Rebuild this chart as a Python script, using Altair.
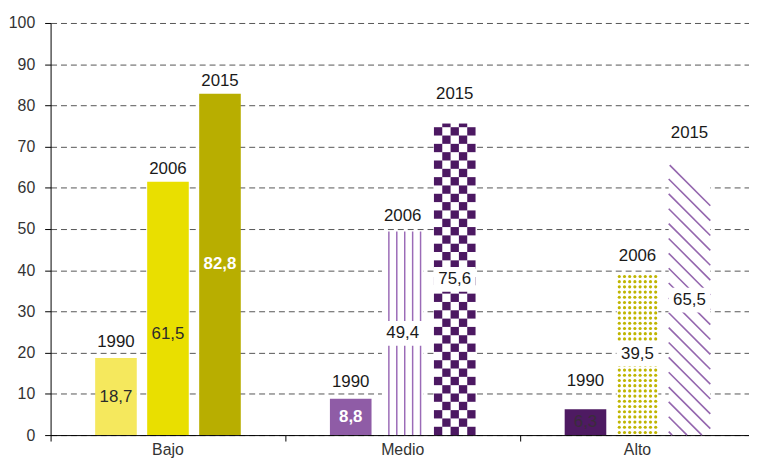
import altair as alt
import pandas as pd
import math

# ---- data ----
groups = ["Bajo", "Medio", "Alto"]
years = ["1990", "2006", "2015"]
bajo = [18.7, 61.5, 82.8]
medio = [8.8, 49.4, 75.6]
alto = [6.3, 39.5, 65.5]
title_text = "B. Varones"

values = [bajo, medio, alto]

# ---- styles ----
fills = [["#F5E85D", "#E9DF00", "#B8AE00"],
         ["#8F5CA6", "vstripe", "checker"],
         ["#4E1A62", "dots", "diag"]]
text_colors = [["#2b2b2b", "#2b2b2b", "#ffffff"],
               ["#ffffff", "#1a1a1a", "#1a1a1a"],
               ["#3a2d3a", "#1a1a1a", "#1a1a1a"]]
text_bold = [[False, False, True], [True, False, False], [False, False, False]]
# placement of the annotations as in the original (pixels)
year_lift = [[16, 13, 13], [17, 16, 30], [28, 16, 32]]
value_drop = [[0, 26, 0], [0, 0, 0], [0, 0, 0]]
VSTRIPE_C = "#9B6BB7"
CHECK_C = "#4C1862"
DOT_C = "#BFB500"
DIAG_C = "#9466AE"
FONT = "Liberation Sans"

W, H = 705, 416
XMAX = 2.975
PXX = W / XMAX
PXY = H / 100.0
BAR_W = 42 / PXX
STEP = 52.5 / PXX

solid, bg, boxes, vlines, cells, dots, diags = [], [], [], [], [], [], []
vlabels, ylabels = [], []

for g, grp in enumerate(groups):
    for j, yr in enumerate(years):
        v = values[g][j]
        cx = g + 0.5 + (j - 1) * STEP
        xl, xr = cx - BAR_W / 2, cx + BAR_W / 2
        kind = fills[g][j]
        lab = f"{v:.1f}".replace(".", ",")
        ly = v / 2 - value_drop[g][j] / PXY
        vlabels.append({"x": cx, "y": ly, "t": lab, "c": text_colors[g][j],
                        "b": text_bold[g][j]})
        ylabels.append({"x": cx, "y": v + year_lift[g][j] / PXY, "t": yr})
        if kind.startswith("#"):
            solid.append({"x": xl, "x2": xr, "y": 0, "y2": v, "c": kind})
            continue
        bg.append({"x": xl, "x2": xr, "y": 0, "y2": v})
        boxes.append({"x": xl, "x2": xr, "y": ly - 3, "y2": ly + 3})
        wpx = BAR_W * PXX
        hpx = v * PXY
        if kind == "vstripe":
            for k in range(5):
                vlines.append({"x": xl + (7 + 8 * k) / PXX, "y": 0, "y2": v})
        elif kind == "checker":
            cw = wpx / 5
            nrows = int(math.ceil(hpx / cw))
            for r in range(nrows):
                for k in range(5):
                    if (r + k) % 2 == 0:
                        y0 = r * cw / PXY
                        y1 = min((r + 1) * cw / PXY, v)
                        cells.append({"x": xl + k * cw / PXX, "x2": xl + (k + 1) * cw / PXX,
                                      "y": y0, "y2": y1})
        elif kind == "dots":
            sp = wpx / 8
            nrows = int(hpx / sp)
            for r in range(nrows):
                for k in range(8):
                    dots.append({"x": xl + (k + 0.5) * sp / PXX, "y": (r + 0.5) * sp / PXY})
        elif kind == "diag":
            sp = 15
            c = hpx + 1
            while c > 0:
                t0 = max(0.0, c - hpx)
                t1 = min(wpx, c)
                if t1 > t0:
                    diags.append({"x": xl + t0 / PXX, "y": (c - t0) / PXY,
                                  "x2": xl + t1 / PXX, "y2": (c - t1) / PXY})
                c -= sp

xs = alt.Scale(domain=[0, XMAX], nice=False, zero=False)
ys = alt.Scale(domain=[0, 100], nice=False)

xaxis = alt.Axis(values=[0, 1, 2], labels=False, tickSize=6, tickColor="black",
                 domainColor="black", grid=False, title=None)
yaxis = alt.Axis(values=list(range(0, 101, 10)), tickSize=6, tickColor="black",
                 domainColor="black", labelPadding=10, labelFontSize=16,
                 labelColor="#333333", labelFont=FONT, grid=True,
                 gridColor="#555555", gridDash=[6, 4], title=None)

def X():
    return alt.X("x:Q", scale=xs, axis=xaxis)

def Y():
    return alt.Y("y:Q", scale=ys, axis=yaxis)

vdf = pd.DataFrame(vlabels)

l_solid = alt.Chart(pd.DataFrame(solid)).mark_rect().encode(
    x=X(), x2="x2:Q", y=Y(), y2="y2:Q", color=alt.Color("c:N", scale=None))
l_bg = alt.Chart(pd.DataFrame(bg)).mark_rect(color="white").encode(
    x=X(), x2="x2:Q", y=Y(), y2="y2:Q")
l_vl = alt.Chart(pd.DataFrame(vlines)).mark_rule(color=VSTRIPE_C, strokeWidth=1.5).encode(
    x=X(), y=Y(), y2="y2:Q")
l_cells = alt.Chart(pd.DataFrame(cells)).mark_rect(color=CHECK_C).encode(
    x=X(), x2="x2:Q", y=Y(), y2="y2:Q")
l_dots = alt.Chart(pd.DataFrame(dots)).mark_circle(color=DOT_C, size=10, opacity=1).encode(
    x=X(), y=Y())
l_diag = alt.Chart(pd.DataFrame(diags)).mark_rule(color=DIAG_C, strokeWidth=1.6).encode(
    x=X(), x2="x2:Q", y=Y(), y2="y2:Q")
l_box = alt.Chart(pd.DataFrame(boxes)).mark_rect(color="white").encode(
    x=X(), x2="x2:Q", y=Y(), y2="y2:Q")
l_vlab = alt.Chart(vdf[~vdf["b"]]).mark_text(
    font=FONT, fontSize=17, baseline="middle", align="center").encode(
    x=X(), y=Y(), text="t:N", color=alt.Color("c:N", scale=None))
l_vlab_b = alt.Chart(vdf[vdf["b"]]).mark_text(
    font=FONT, fontSize=17, fontWeight="bold", baseline="middle", align="center").encode(
    x=X(), y=Y(), text="t:N", color=alt.Color("c:N", scale=None))
l_ylab = alt.Chart(pd.DataFrame(ylabels)).mark_text(
    font=FONT, fontSize=17, baseline="middle", align="center", color="#1a1a1a").encode(
    x=X(), y=Y(), text="t:N")
l_cat = alt.Chart(pd.DataFrame({"x": [0.5, 1.5, 2.5], "t": groups})).mark_text(
    font=FONT, fontSize=16, baseline="middle", align="center", color="#333333").encode(
    x=X(), y=alt.value(H + 15), text="t:N")
l_title = alt.Chart(pd.DataFrame({"t": [title_text]})).mark_text(
    font=FONT, fontSize=19, baseline="alphabetic", align="center", color="#333333").encode(
    x=alt.value(332), y=alt.value(-16), text="t:N")

chart = alt.layer(l_solid, l_bg, l_vl, l_cells, l_dots, l_diag, l_box,
                  l_vlab, l_vlab_b, l_ylab, l_cat, l_title).properties(
    width=W, height=H,
    autosize=alt.AutoSizeParams(type="none"),
    padding={"left": 43, "top": 13, "right": 0, "bottom": 22},
).configure_view(stroke=None)

chart.save("out.html", embed_options={"renderer": "svg", "actions": False})
